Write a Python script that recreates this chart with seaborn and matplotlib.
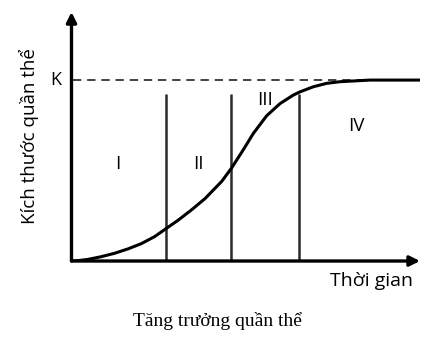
import numpy as np
import pandas as pd
import seaborn as sns
import matplotlib
matplotlib.use("Agg")
import matplotlib.pyplot as plt

sns.set_theme(style="white")
plt.rcParams['font.family'] = ['Open Sans', 'DejaVu Sans']

# Data (time units, population size with K = 1)
time_points = [0.0, 0.187, 0.473, 0.855, 1.240, 1.621, 2.003, 2.387, 2.720, 3.056,
               3.440, 3.831, 4.310, 4.597, 4.930, 5.217, 5.601, 5.983, 6.364, 6.557,
               6.938, 7.323, 7.704, 8.086, 8.565, 10.0]
size_values = [0.0, 0.002, 0.009, 0.024, 0.043, 0.067, 0.096, 0.135, 0.180, 0.225,
               0.282, 0.345, 0.440, 0.515, 0.615, 0.705, 0.803, 0.870, 0.917, 0.935,
               0.963, 0.982, 0.991, 0.995, 1.0, 1.0]
phase_bounds = [2.70, 4.57, 6.54]
phase_labels = ["I", "II", "III", "IV"]
phase_label_x = [1.33, 3.63, 5.55, 8.16]
phase_label_y = [0.536, 0.536, 0.890, 0.746]
K_value = 1.0
x_label = "Thời gian"
y_label = "Kích thước quần thể"
caption = "Tăng trưởng quần thể"

df = pd.DataFrame({"t": time_points, "N": size_values})

fig = plt.figure(figsize=(4.24, 3.42), dpi=100)
ax = fig.add_axes([0.1686, 0.2368, 0.822, 0.728])
ax.set_xlim(0, 10)
ax.set_ylim(0, 1.376)
for s in ax.spines.values():
    s.set_visible(False)
ax.set_xticks([])
ax.set_yticks([])

# K dashed line
ax.plot([0.05, 10], [K_value, K_value], linestyle=(0, (5, 3.5)), color="#222222", lw=1.2)

# phase boundaries
ax.vlines(phase_bounds, 0, 0.923, colors="#2a2a2a", lw=1.8)

# growth curve
sns.lineplot(data=df, x="t", y="N", ax=ax, color="black", lw=2.2, sort=False,
             solid_joinstyle="round", solid_capstyle="round")
ax.set_xlabel("")
ax.set_ylabel("")

# axes arrows
ax.annotate("", xy=(10, 0), xytext=(0, 0),
            arrowprops=dict(arrowstyle="-|>", lw=2.4, color="black", mutation_scale=15,
                            shrinkA=0, shrinkB=0), annotation_clip=False)
ax.annotate("", xy=(0, 1.376), xytext=(0, 0),
            arrowprops=dict(arrowstyle="-|>", lw=2.4, color="black", mutation_scale=15,
                            shrinkA=0, shrinkB=0), annotation_clip=False)

# texts
ax.text(-0.45, K_value, "K", ha="center", va="center", fontsize=13, color="black")
for lab, lx, ly in zip(phase_labels, phase_label_x, phase_label_y):
    ax.text(lx, ly, lab, ha="center", va="center", fontsize=13.5, color="black",
            fontweight="medium")
ax.text(9.8, -0.138, x_label, ha="right", va="baseline", fontsize=14, color="black")
ax.text(-0.122, 0.69, y_label, transform=ax.get_yaxis_transform(), rotation=90,
        ha="center", va="center", fontsize=13.5, color="black")
fig.text(0.514, 0.0614, caption, ha="center", va="center", fontsize=14,
         family=["Liberation Serif", "DejaVu Serif"], color="black")

fig.savefig("out.png", dpi=100, facecolor="white")
